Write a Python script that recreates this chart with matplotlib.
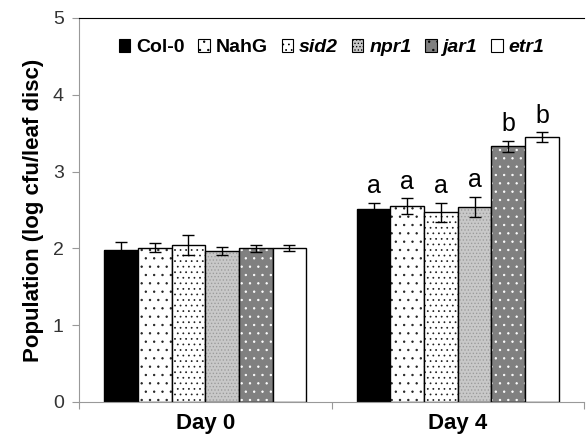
import matplotlib.pyplot as plt
import matplotlib.hatch
import numpy as np

plt.rcParams['font.family'] = ['Liberation Sans', 'DejaVu Sans']
plt.rcParams['hatch.linewidth'] = 0.6
# smaller dots for the '.' hatch
matplotlib.hatch.SmallFilledCircles.size = 0.09

days = ["Day 0", "Day 4"]
genotypes = ["Col-0", "NahG", "sid2", "npr1", "jar1", "etr1"]
italic = [False, False, True, True, True, True]

day0 = [1.98, 2.01, 2.04, 1.97, 2.00, 2.00]
day0_err = [0.10, 0.06, 0.13, 0.05, 0.05, 0.04]
day4 = [2.51, 2.55, 2.47, 2.54, 3.33, 3.45]
day4_err = [0.08, 0.10, 0.12, 0.13, 0.07, 0.06]
day4_letters = ["a", "a", "a", "a", "b", "b"]

# fill, hatch, hatch colour per genotype
styles = [
    ("black", None, "black"),
    ("white", "..", "#222222"),
    ("white", "...", "#222222"),
    ("#c8c8c8", ".....", "#999999"),
    ("#808080", "..", "white"),
    ("white", None, "black"),
]

fig = plt.figure(figsize=(5.87, 4.44), dpi=100)
ax = fig.add_axes([0.1346, 0.0946, 0.995 - 0.1346, 0.9595 - 0.0946])

x = np.arange(len(days))
n = len(genotypes)
width = 0.8 / n
values = np.array([day0, day4])
errs = np.array([day0_err, day4_err])

handles = []
for i, g in enumerate(genotypes):
    fc, hatch, hc = styles[i]
    pos = x - 0.4 + width * (i + 0.5)
    ax.bar(pos, values[:, i], width, color=fc, edgecolor=hc, hatch=hatch, linewidth=0)
    ax.bar(pos, values[:, i], width, facecolor="none", edgecolor="black", linewidth=1.0)
    ax.errorbar(pos, values[:, i], yerr=errs[:, i], fmt="none", ecolor="black",
                elinewidth=1.0, capsize=4, capthick=1.0)
    h = plt.Rectangle((0, 0), 1, 1, facecolor=fc, edgecolor="black", hatch=hatch, linewidth=0.8)
    handles.append(h)
    top = values[1, i] + errs[1, i]
    ax.text(pos[1], top + 0.06, day4_letters[i], ha="center", va="bottom", fontsize=18)

ax.set_xlim(-0.5, 1.5)
ax.set_ylim(0, 5)
ax.set_yticks(range(6))
ax.set_xticks([-0.5, 0.5, 1.5], minor=False)
ax.set_xticklabels([])
ax.set_xticks(x, minor=True)
ax.set_xticklabels(days, minor=True, fontsize=16, fontweight="bold")
ax.tick_params(axis="x", which="minor", length=0, pad=8)
ax.tick_params(axis="x", which="major", direction="out", length=5, color="#999999")
ax.tick_params(axis="y", direction="out", length=5, color="#999999", labelsize=14,
               labelcolor="#333333", pad=6)
ax.set_ylabel("Population (log cfu/leaf disc)", fontsize=16, fontweight="bold", labelpad=6)

for s in ["left", "bottom"]:
    ax.spines[s].set_color("#999999")
ax.spines["top"].set_color("black")
ax.spines["right"].set_visible(False)

leg = ax.legend(handles, genotypes, loc="upper center", bbox_to_anchor=(0.5, 0.99), ncol=6,
                frameon=False, handlelength=0.6, handleheight=0.6, handletextpad=0.3,
                columnspacing=0.7, prop={"size": 14, "weight": "bold"})
for t, it in zip(leg.get_texts(), italic):
    if it:
        t.set_style("italic")

fig.savefig("out.png", dpi=100)
